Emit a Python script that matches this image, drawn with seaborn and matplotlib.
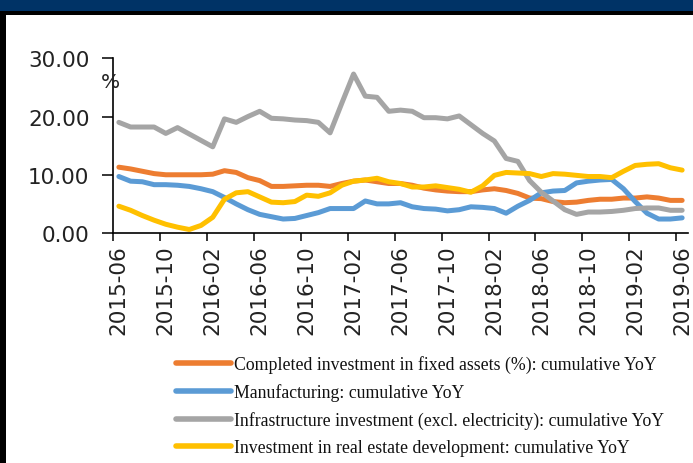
import matplotlib
matplotlib.use("Agg")
import matplotlib.pyplot as plt
from matplotlib.patches import Rectangle
from matplotlib.ticker import FixedLocator
import seaborn as sns
import pandas as pd

# Monthly periods, June 2015 to June 2019
months = pd.period_range("2015-06", "2019-06", freq="M").strftime("%Y-%m").tolist()

fixed_assets = [11.3, 11.0, 10.6, 10.2, 10.0, 10.0, 10.0, 10.0, 10.1, 10.7,
                10.4, 9.5, 9.0, 8.0, 8.0, 8.1, 8.2, 8.2, 8.0, 8.5,
                8.9, 9.1, 8.8, 8.5, 8.5, 8.2, 7.7, 7.4, 7.2, 7.1,
                7.1, 7.4, 7.6, 7.3, 6.8, 6.0, 5.9, 5.4, 5.2, 5.3,
                5.6, 5.8, 5.8, 6.0, 6.0, 6.2, 6.0, 5.6, 5.6]
manufacturing = [9.7, 8.9, 8.8, 8.3, 8.3, 8.2, 8.0, 7.6, 7.1, 6.1,
                 5.0, 4.0, 3.2, 2.8, 2.4, 2.5, 3.0, 3.5, 4.2, 4.2,
                 4.2, 5.5, 5.0, 5.0, 5.2, 4.5, 4.2, 4.1, 3.8, 4.0,
                 4.5, 4.4, 4.2, 3.4, 4.6, 5.6, 6.9, 7.2, 7.3, 8.6,
                 8.9, 9.1, 9.2, 7.6, 5.4, 3.4, 2.4, 2.4, 2.6]
infrastructure = [19.0, 18.2, 18.2, 18.2, 17.1, 18.1, 17.0, 15.9, 14.8, 19.6,
                  19.0, 20.0, 20.9, 19.7, 19.6, 19.4, 19.3, 19.0, 17.2, 22.3,
                  27.3, 23.5, 23.3, 20.9, 21.1, 20.9, 19.8, 19.8, 19.6, 20.1,
                  18.6, 17.1, 15.8, 12.8, 12.3, 9.0, 7.0, 5.5, 4.0, 3.2,
                  3.6, 3.6, 3.7, 3.9, 4.2, 4.3, 4.3, 3.9, 3.9]
real_estate = [4.6, 3.9, 3.0, 2.2, 1.5, 1.0, 0.6, 1.3, 2.7, 5.8,
               6.9, 7.1, 6.2, 5.3, 5.2, 5.4, 6.5, 6.3, 6.9, 8.2,
               8.9, 9.1, 9.4, 8.8, 8.5, 7.9, 7.9, 8.1, 7.8, 7.5,
               7.0, 8.1, 9.9, 10.4, 10.3, 10.2, 9.7, 10.2, 10.1, 9.9,
               9.7, 9.7, 9.5, 10.6, 11.6, 11.8, 11.9, 11.2, 10.8]

series_names = [
    "Completed investment in fixed assets (%): cumulative YoY",
    "Manufacturing: cumulative YoY",
    "Infrastructure investment (excl. electricity): cumulative YoY",
    "Investment in real estate development: cumulative YoY",
]
series_values = [fixed_assets, manufacturing, infrastructure, real_estate]
colors = ["#ED7D31", "#5B9BD5", "#A5A5A5", "#FFC000"]

y_ticks = [0, 10, 20, 30]
y_tick_labels = ["0.00", "10.00", "20.00", "30.00"]
label_step = 4

frames = []
for name, vals in zip(series_names, series_values):
    frames.append(pd.DataFrame({"pos": range(len(months)), "month": months,
                                "value": vals, "series": name}))
df = pd.concat(frames, ignore_index=True)

sns.set_style("ticks")
plt.rcParams["font.family"] = ["DejaVu Sans"]

fig = plt.figure(figsize=(6.93, 4.64), dpi=100)
fig.patch.set_facecolor("white")
ax = fig.add_axes([113 / 693, 1 - 234 / 464, (688 - 113) / 693, (234 - 59.3) / 464])

sns.lineplot(data=df, x="pos", y="value", hue="series", hue_order=series_names,
             palette=colors, linewidth=3.6, legend=False, ax=ax, sort=False)
for line in ax.get_lines():
    line.set_solid_joinstyle("round")
    line.set_solid_capstyle("round")

ax.set_xlim(-0.5, len(months) - 0.5)
ax.set_ylim(0, 30)
ax.set_xlabel("")
ax.set_ylabel("")

label_pos = list(range(0, len(months), label_step))
ax.set_xticks(label_pos)
ax.set_xticklabels([months[i] for i in label_pos], rotation=90, fontsize=15.5,
                   color="#222222")
ax.xaxis.set_minor_locator(FixedLocator([p - 0.5 for p in label_pos]))
ax.tick_params(axis="x", which="major", length=0, pad=8)
ax.tick_params(axis="x", which="minor", length=6, width=1.1, color="black",
               direction="out")

ax.set_yticks(y_ticks)
ax.set_yticklabels(y_tick_labels, fontsize=15.5, color="#222222")
ax.tick_params(axis="y", length=8, width=1.1, color="black", pad=9,
               direction="out")

sns.despine(ax=ax)
for side in ("left", "bottom"):
    ax.spines[side].set_linewidth(1.2)
    ax.spines[side].set_color("black")

fig.text(110 / 693, 1 - 82 / 464, "%", fontsize=14.5, color="#222222",
         ha="center", va="center")

leg = ax.legend(ax.get_lines(), series_names, loc="upper left",
                bbox_to_anchor=(176 / 693, 1 - 356 / 464),
                bbox_transform=fig.transFigure, frameon=False,
                prop={"family": "Liberation Serif", "size": 12.8},
                handlelength=3.1, handletextpad=0.15, labelspacing=0.57,
                borderpad=0, borderaxespad=0)
for h in leg.get_lines():
    h.set_linewidth(4)
    h.set_solid_capstyle("round")
for t in leg.get_texts():
    t.set_color("#111111")

# header band and left frame edge
fig.add_artist(Rectangle((0, 1 - 12 / 464), 1, 12 / 464, transform=fig.transFigure,
                         facecolor="#003366", edgecolor="none"))
fig.add_artist(Rectangle((0, 1 - 16 / 464), 1, 4 / 464, transform=fig.transFigure,
                         facecolor="black", edgecolor="none"))
fig.add_artist(Rectangle((0, 0), 6 / 693, 1 - 12 / 464, transform=fig.transFigure,
                         facecolor="black", edgecolor="none"))

fig.savefig("out.png", dpi=100)
